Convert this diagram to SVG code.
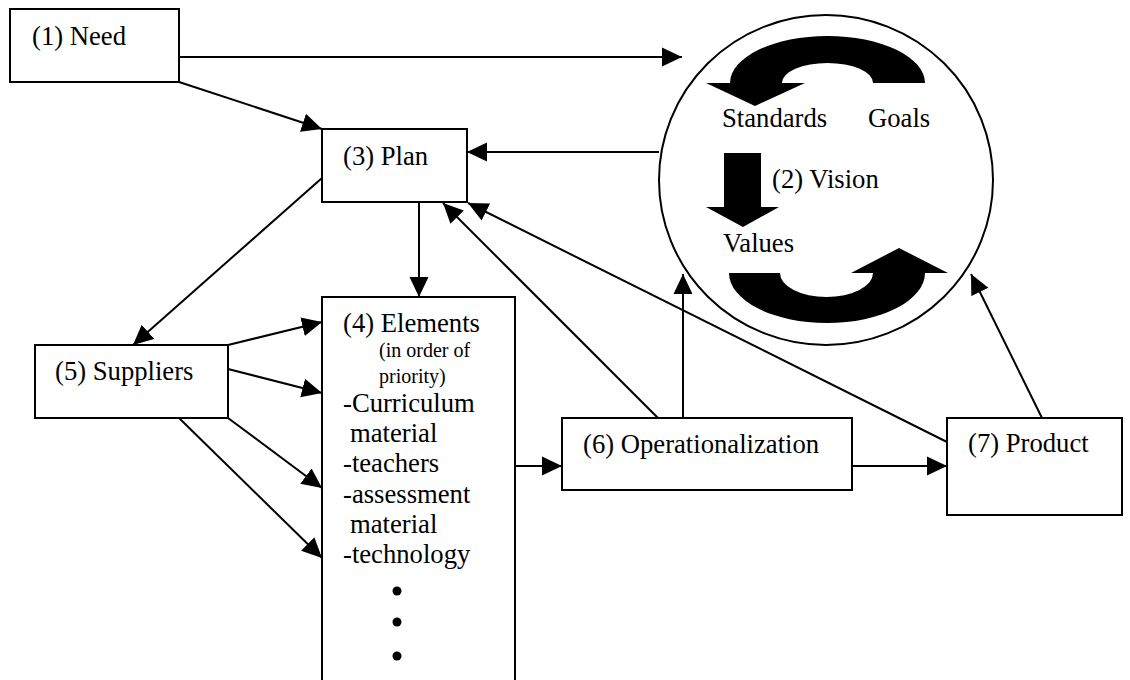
<svg xmlns="http://www.w3.org/2000/svg" width="1130" height="680" viewBox="0 0 1130 680">
<style>
.box{fill:#fff;stroke:#000;stroke-width:2}
.t{font-family:"Liberation Serif","Times New Roman",serif;font-size:26.67px;fill:#000}
.s{font-family:"Liberation Serif","Times New Roman",serif;font-size:20px;fill:#000}
.c line{stroke:#000;stroke-width:2;marker-end:url(#ah)}
</style>
<defs>
<marker id="ah" markerUnits="userSpaceOnUse" markerWidth="20" markerHeight="20" viewBox="0 0 20 20" refX="20" refY="10" orient="auto">
<path d="M0,0.5 L20,10 L0,19.5 Z" fill="#000"/>
</marker>
</defs>
<rect width="1130" height="680" fill="#fff"/>
<g id="need"><rect class="box" x="10" y="9" width="169" height="73"/><text class="t" x="32" y="45">(1) Need</text></g>
<g id="vision">
<ellipse cx="826" cy="180" rx="167" ry="165" fill="#fff" stroke="#000" stroke-width="2"/>
<path d="M925,83 A97.5,47 0 0 0 730,83 L706,83 L755,106 L805,83 L782,83 A45.5,20 0 0 1 873,83 Z" fill="#000"/>
<path d="M729,273 A98,50 0 0 0 925,273 L948,273 L899,248 L851,273 L873,273 A46.5,24 0 0 1 780,273 Z" fill="#000"/>
<polygon points="724,153 761,153 761,207 779,207 743,227 706,207 724,207" fill="#000"/>
<text class="t" x="722" y="127">Standards</text>
<text class="t" x="868" y="127">Goals</text>
<text class="t" x="772" y="188">(2) Vision</text>
<text class="t" x="723" y="252">Values</text>
</g>
<g id="plan"><rect class="box" x="322" y="129" width="145" height="73"/><text class="t" x="343" y="165">(3) Plan</text></g>
<g id="elements"><rect class="box" x="322" y="297" width="193" height="400"/>
<text class="t" x="343" y="332">(4) Elements</text>
<text class="s" x="379" y="357">(in order of</text>
<text class="s" x="379" y="383">priority)</text>
<text class="t" x="343" y="412">-Curriculum</text>
<text class="t" x="350" y="442">material</text>
<text class="t" x="343" y="472">-teachers</text>
<text class="t" x="343" y="503">-assessment</text>
<text class="t" x="350" y="533">material</text>
<text class="t" x="343" y="563">-technology</text>
<circle cx="397" cy="591" r="4.5"/><circle cx="397" cy="622" r="4.5"/><circle cx="397" cy="656" r="4.5"/>
</g>
<g id="suppliers"><rect class="box" x="35" y="345" width="193" height="73"/><text class="t" x="55" y="380">(5) Suppliers</text></g>
<g id="operationalization"><rect class="box" x="562" y="418" width="290" height="72"/><text class="t" x="583" y="453">(6) Operationalization</text></g>
<g id="product"><rect class="box" x="947" y="418" width="175" height="97"/><text class="t" x="968" y="452">(7) Product</text></g>
<g id="connectors" class="c">
<line x1="179" y1="57" x2="682" y2="57"/>
<line x1="179" y1="82" x2="322" y2="129"/>
<line x1="659" y1="152" x2="467" y2="152"/>
<line x1="419" y1="202" x2="419" y2="297"/>
<line x1="322" y1="178" x2="133" y2="345"/>
<line x1="228" y1="345" x2="322" y2="322"/>
<line x1="228" y1="369" x2="322" y2="393"/>
<line x1="228" y1="418" x2="322" y2="488"/>
<line x1="179" y1="418" x2="322" y2="558"/>
<line x1="515" y1="466" x2="562" y2="466"/>
<line x1="852" y1="466" x2="947" y2="466"/>
<line x1="658" y1="418" x2="443" y2="203"/>
<line x1="683" y1="418" x2="683" y2="274"/>
<line x1="947" y1="442" x2="468" y2="203"/>
<line x1="1042" y1="418" x2="971" y2="274"/>
</g>
</svg>
